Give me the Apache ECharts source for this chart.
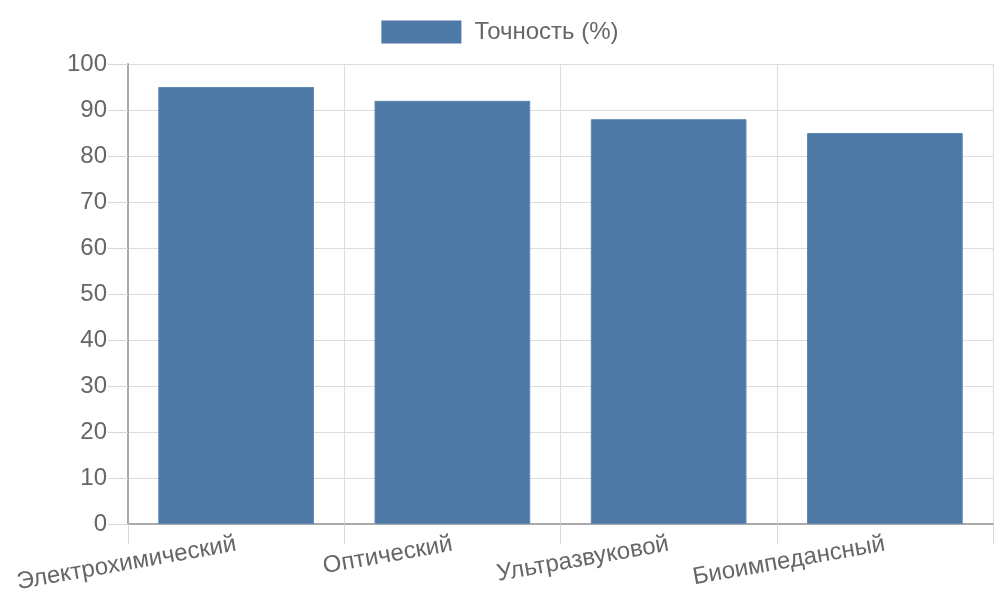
<!DOCTYPE html>
<html>
<head>
<meta charset="utf-8">
<script src="https://cdn.jsdelivr.net/npm/echarts@6/dist/echarts.min.js"></script>
<style>html,body{margin:0;padding:0;background:#fff}#c{width:1000px;height:600px}</style>
</head>
<body>
<div id="c"></div>
<script>
const categories = ['Электрохимический', 'Оптический', 'Ультразвуковой', 'Биоимпедансный'];
const accuracy = [95, 92, 88, 85];
const seriesName = 'Точность (%)';

const chart = echarts.init(document.getElementById('c'));
const font = 'Liberation Sans, Arial, sans-serif';
chart.setOption({
  animation: false,
  textStyle: { fontFamily: font },
  legend: {
    top: 20, left: 'center', padding: 0,
    icon: 'rect',
    itemWidth: 80, itemHeight: 23, itemGap: 10,
    itemStyle: { borderWidth: 0 },
    textStyle: { fontSize: 24, lineHeight: 23, color: '#666', fontFamily: font, padding: [0, 0, 0, 8] },
    data: [seriesName]
  },
  grid: { left: 128, right: 7, top: 64, bottom: 76, containLabel: false },
  xAxis: {
    type: 'category',
    data: categories,
    axisLine: { show: true, lineStyle: { color: '#aaa', width: 2 } },
    axisTick: { show: true, length: 20, lineStyle: { color: '#d8d8d8', width: 1 } },
    splitLine: { show: true, lineStyle: { color: '#ddd', width: 1 } },
    axisLabel: { rotate: 10, fontSize: 24, color: '#666', margin: 20, fontFamily: font, interval: 0 }
  },
  yAxis: {
    type: 'value', min: 0, max: 100, interval: 10,
    axisLine: { show: true, lineStyle: { color: '#aaa', width: 2 } },
    axisTick: { show: true, length: 20, lineStyle: { color: '#d8d8d8', width: 1 } },
    splitLine: { show: true, lineStyle: { color: '#ddd', width: 1 } },
    axisLabel: { fontSize: 24, color: '#666', margin: 21, fontFamily: font }
  },
  series: [{
    name: seriesName,
    type: 'bar',
    data: accuracy,
    barCategoryGap: '28%',
    itemStyle: { color: '#4e79a7', borderColor: '#5f88b4', borderWidth: 1 }
  }]
});
</script>
</body>
</html>
